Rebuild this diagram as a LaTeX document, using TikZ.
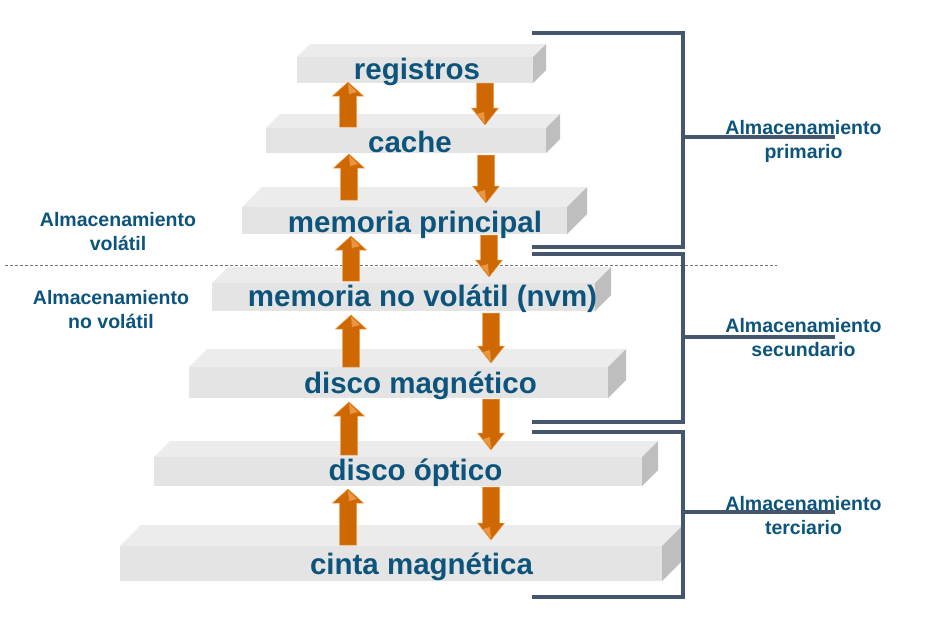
\documentclass[tikz,border=0pt]{standalone}
\usepackage{fontspec}
\setmainfont{Liberation Sans}
\definecolor{txt}{RGB}{12,84,124}
\definecolor{org}{RGB}{206,104,2}
\definecolor{orgl}{RGB}{240,158,78}
\definecolor{brk}{RGB}{70,86,110}
\definecolor{stop}{RGB}{236,236,236}
\definecolor{sfront}{RGB}{228,228,228}
\definecolor{sside}{RGB}{190,190,190}
\tikzset{
  lbl/.style={text=txt, font=\bfseries\fontsize{29.5}{35}\selectfont, inner sep=0pt, anchor=base},
  side/.style={text=txt, font=\bfseries\fontsize{19.5}{24}\selectfont, inner sep=0pt, align=center},
  brace/.style={draw=brk, line width=3.5pt, line join=miter},
  sep/.style={draw=black!55, line width=0.8pt, dash pattern=on 3pt off 2pt},
  arrbody/.style={fill=org, draw=orgl, line width=0.5pt},
  arrhi/.style={fill=orgl, opacity=0.85}
}
\newcommand\slabshape[6]{% name, xl, xr, yt, yb, d
  \fill[stop] (#2,#4) -- (#2+#6,#4-#6) -- (#3+#6,#4-#6) -- (#3,#4) -- cycle;
  \fill[sfront] (#2,#4) rectangle (#3,#5);
  \fill[sside] (#3,#4) -- (#3+#6,#4-#6) -- (#3+#6,#5-#6) -- (#3,#5) -- cycle;
  \coordinate (#1) at ({(#2+#3)/2},#4);
}
\newcommand\arrUp[3]{% x, ybottom, ytip
  \path[arrbody] (#1-8.5,#2) -- (#1-8.5,#3+14) -- (#1-15.5,#3+14) -- (#1,#3) -- (#1+15.5,#3+14) -- (#1+8.5,#3+14) -- (#1+8.5,#2) -- cycle;
  \fill[arrhi] (#1,#3+1.5) -- (#1+9,#3+10) -- (#1+1,#3+12) -- cycle;
}
\newcommand\arrDn[3]{% x, ytop, ytip
  \path[arrbody] (#1-8.5,#2) -- (#1-8.5,#3-17) -- (#1-13.5,#3-17) -- (#1,#3) -- (#1+13.5,#3-17) -- (#1+8.5,#3-17) -- (#1+8.5,#2) -- cycle;
  \fill[arrhi] (#1,#3-1.5) -- (#1-8,#3-11) -- (#1-1,#3-13) -- cycle;
}
\begin{document}
\begin{tikzpicture}[x=1pt,y=-1pt]
\fill[white] (0,0) rectangle (925,621);
\useasboundingbox (0,0) rectangle (925,621);
% slabs
\slabshape{s1}{297}{533}{57}{83}{13}
\slabshape{s2}{266}{546}{128}{153}{14}
\slabshape{s3}{242}{567}{207}{234}{20}
\slabshape{s4}{212}{595}{283}{311}{16}
\slabshape{s5}{189}{608}{367}{398}{18}
\slabshape{s6}{154}{642}{457}{486}{16}
\slabshape{s7}{120}{662}{546}{581}{21}
% dashed separator
\coordinate (dl) at (5,265);
\coordinate (dr) at (777,265);
\draw[sep] (dl) -- (dr);
% arrows
\arrUp{348}{127}{82}
\arrUp{349}{200}{154}
\arrUp{351}{281}{236}
\arrUp{351}{367}{315}
\arrUp{349}{455}{402}
\arrUp{348}{545}{489}
\arrDn{485}{83}{125}
\arrDn{486}{155}{203}
\arrDn{489}{235}{277}
\arrDn{491}{313}{363}
\arrDn{491}{399}{450}
\arrDn{491}{487}{540}
% labels on slabs
\node[lbl] (t1) at (417,79) {registros};
\node[lbl] (t2) at (410,152.2) {cache};
\node[lbl] (t3) at (415,232.2) {memoria principal};
\node[lbl] (t4) at (422.5,306.6) {memoria no volátil (nvm)};
\node[lbl] (t5) at (420.5,393.2) {disco magnético};
\node[lbl] (t6) at (415.5,480) {disco óptico};
\node[lbl] (t7) at (421.5,574.4) {cinta magnética};
% brackets
\coordinate (p1) at (532,33);  \coordinate (p2) at (683,33);
\coordinate (p3) at (683,247); \coordinate (p4) at (532,247);
\coordinate (pm) at (683,137); \coordinate (pe) at (835,137);
\draw[brace] (p1) -- (p2) -- (p3) -- (p4);
\draw[brace] (pm) -- (pe);
\coordinate (q1) at (532,254); \coordinate (q2) at (683,254);
\coordinate (q3) at (683,422); \coordinate (q4) at (532,422);
\coordinate (qm) at (683,337); \coordinate (qe) at (835,337);
\draw[brace] (q1) -- (q2) -- (q3) -- (q4);
\draw[brace] (qm) -- (qe);
\coordinate (r1) at (532,432); \coordinate (r2) at (683,432);
\coordinate (r3) at (683,597); \coordinate (r4) at (532,597);
\coordinate (rm) at (683,512); \coordinate (re) at (835,512);
\draw[brace] (r1) -- (r2) -- (r3) -- (r4);
\draw[brace] (rm) -- (re);
% side labels
\node[side] (lp) at (803.5,141) {Almacenamiento\\primario};
\node[side] (ls) at (803.5,338) {Almacenamiento\\secundario};
\node[side] (lt) at (803.5,516) {Almacenamiento\\terciario};
\node[side] (lv) at (118,232) {Almacenamiento\\volátil};
\node[side] (ln) at (111,310) {Almacenamiento\\no volátil};
\end{tikzpicture}
\end{document}
